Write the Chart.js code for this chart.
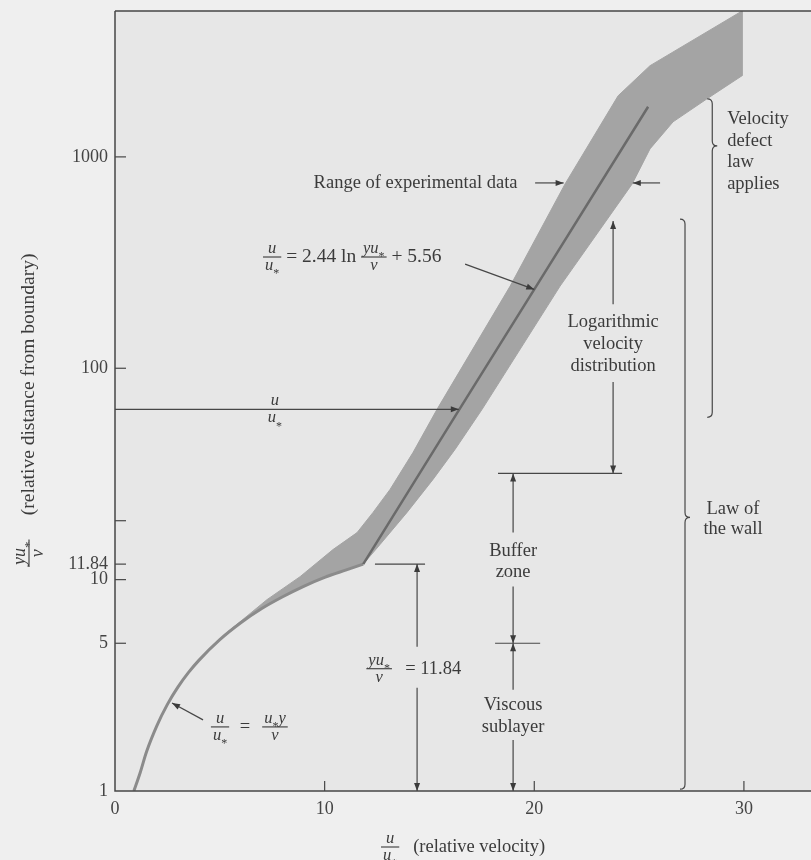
<!DOCTYPE html>
<html lang="en">
<head>
<meta charset="UTF-8" />
<title>Velocity distribution near a smooth wall</title>
<script src="https://cdn.jsdelivr.net/npm/chart.js@4.4.1/dist/chart.umd.min.js"></script>
<style>
    body { margin: 0; background: #f1f1f1; }
    #wrap { width: 811px; height: 860px; }
</style>
</head>
<body>
<div id="wrap"><canvas id="wallChart" width="811" height="860"></canvas></div>
<script>
// x = u/u*  (relative velocity), y = yu*/nu (relative distance, log)
const xTicks = [0, 10, 20, 30];
const yTicks = [1, 5, 10, 11.84, 19, 100, 1000];
const yTickLabels = ['1', '5', '10', '11.84', '', '100', '1000'];

// range of experimental data, outline: upper edge going up, then lower edge coming back
const bandX = [5.39, 7.25, 8.83, 10.4, 11.55, 12.31, 13.12, 14.22, 15.36, 18.85, 21.47, 24.0, 25.52, 29.91,
               29.91, 28.24, 26.62, 25.52, 24.67, 21.23, 17.51, 16.22, 15.17, 13.93, 12.64, 11.84,
               11.0, 10.0, 9.0, 8.0, 7.0, 6.0];
const bandY = [5.67, 8.04, 10.33, 13.88, 16.7, 20.8, 26.7, 40.0, 63.9, 244.7, 745, 1946, 2700, 4900,
               2421, 1883, 1465, 1091, 745, 244.7, 63.9, 41.3, 29.8, 20.8, 14.65, 11.84,
               11.1, 10.25, 9.3, 8.3, 7.3, 6.25];

// viscous sublayer curve  u/u* = u*y/nu
const viscousX = [0.9, 1.2, 1.5, 2.0, 2.5, 3.0, 3.5, 4.0, 5.0, 6.0, 7.0, 8.0, 9.0, 10.0, 11.0, 11.84];
const viscousY = [1.0, 1.22, 1.53, 2.04, 2.57, 3.1, 3.63, 4.15, 5.2, 6.25, 7.3, 8.3, 9.3, 10.25, 11.1, 11.84];

// log law  u/u* = 2.44 ln(yu*/nu) + 5.56
const logLawX = [11.84, 16.3, 20.0, 25.43];
const logLawY = [11.84, 61, 236, 1726];

const SERIF = '"Liberation Serif", "DejaVu Serif", serif';
const INK = '#3b3b3b';
const TXT = 18.5;   // annotation text size
const FR = 16.5;    // fraction text size

function toPoints(xs, ys) {
    return xs.map((x, i) => ({ x: x, y: ys[i] }));
}

// small rich text: '*' after a letter is drawn as a subscript asterisk
function richWidth(ctx, s, size) {
    let w = 0;
    for (const ch of s) {
        ctx.font = ch === '*' ? Math.round(size * 0.7) + 'px ' + SERIF : 'italic ' + size + 'px ' + SERIF;
        w += ctx.measureText(ch).width;
    }
    return w;
}
function drawRich(ctx, s, x, y, size) {
    ctx.textAlign = 'left';
    ctx.textBaseline = 'alphabetic';
    for (const ch of s) {
        if (ch === '*') {
            ctx.font = Math.round(size * 0.7) + 'px ' + SERIF;
            ctx.fillText(ch, x, y + size * 0.45);
        } else {
            ctx.font = 'italic ' + size + 'px ' + SERIF;
            ctx.fillText(ch, x, y);
        }
        x += ctx.measureText(ch).width;
    }
}
function fracWidth(ctx, f, size) {
    return Math.max(richWidth(ctx, f[0], size), richWidth(ctx, f[1], size)) + 4;
}
function drawFrac(ctx, f, cx, cy, size, bar) {
    const wn = richWidth(ctx, f[0], size), wd = richWidth(ctx, f[1], size);
    const w = Math.max(wn, wd) + 4;
    drawRich(ctx, f[0], cx - wn / 2, cy - 4, size);
    drawRich(ctx, f[1], cx - wd / 2, cy + size * 0.78, size);
    if (bar !== false) {
        ctx.beginPath();
        ctx.moveTo(cx - w / 2, cy);
        ctx.lineTo(cx + w / 2, cy);
        ctx.stroke();
    }
    return w;
}
// sequence of plain strings and fractions, vertically centred on cy
function drawSeq(ctx, items, x, cy, size, fsize) {
    for (const it of items) {
        if (typeof it === 'string') {
            ctx.font = size + 'px ' + SERIF;
            ctx.textAlign = 'left';
            ctx.textBaseline = 'middle';
            ctx.fillText(it, x, cy);
            x += ctx.measureText(it).width;
        } else {
            const w = fracWidth(ctx, it, fsize);
            drawFrac(ctx, it, x + w / 2, cy, fsize);
            x += w;
        }
    }
}
function label(ctx, s, p, align) {
    ctx.font = TXT + 'px ' + SERIF;
    ctx.textAlign = align || 'center';
    ctx.textBaseline = 'middle';
    ctx.fillText(s, p.x, p.y);
}
function seg(ctx, p, q) {
    ctx.beginPath();
    ctx.moveTo(p.x, p.y);
    ctx.lineTo(q.x, q.y);
    ctx.stroke();
}
function arrow(ctx, p, q) {
    seg(ctx, p, q);
    const a = Math.atan2(q.y - p.y, q.x - p.x), len = 8, hw = 3;
    ctx.beginPath();
    ctx.moveTo(q.x, q.y);
    ctx.lineTo(q.x - len * Math.cos(a) + hw * Math.sin(a), q.y - len * Math.sin(a) - hw * Math.cos(a));
    ctx.lineTo(q.x - len * Math.cos(a) - hw * Math.sin(a), q.y - len * Math.sin(a) + hw * Math.cos(a));
    ctx.closePath();
    ctx.fill();
}
function brace(ctx, x, top, tip, bottom) {
    const r = 5;
    ctx.beginPath();
    ctx.moveTo(x - r, top);
    ctx.quadraticCurveTo(x, top, x, top + r);
    ctx.lineTo(x, tip - r);
    ctx.quadraticCurveTo(x, tip, x + r, tip);
    ctx.quadraticCurveTo(x, tip, x, tip + r);
    ctx.lineTo(x, bottom - r);
    ctx.quadraticCurveTo(x, bottom, x - r, bottom);
    ctx.stroke();
}

const paperPlugin = {
    id: 'paper',
    beforeDraw(chart) {
        const { ctx, chartArea: a } = chart;
        ctx.save();
        ctx.fillStyle = '#efefef';
        ctx.fillRect(0, 0, chart.width, chart.height);
        ctx.fillStyle = '#e7e7e7';
        ctx.fillRect(a.left, a.top, a.right - a.left, a.bottom - a.top);
        ctx.restore();
    }
};

const notesPlugin = {
    id: 'notes',
    afterDraw(chart) {
        const { ctx, chartArea: a } = chart;
        const xs = chart.scales.x, ys = chart.scales.y;
        const P = (x, y) => ({ x: xs.getPixelForValue(x), y: ys.getPixelForValue(y) });
        ctx.save();

        // frame and inward ticks
        ctx.strokeStyle = '#474747';
        ctx.lineWidth = 1.5;
        ctx.beginPath();
        ctx.moveTo(a.left, a.top);
        ctx.lineTo(a.right, a.top);
        ctx.moveTo(a.left, a.top);
        ctx.lineTo(a.left, a.bottom);
        ctx.lineTo(a.right, a.bottom);
        ctx.stroke();
        ctx.lineWidth = 1.2;
        xs.ticks.forEach(t => {
            if (t.value === 0) return;
            const x = xs.getPixelForValue(t.value);
            seg(ctx, { x: x, y: a.bottom }, { x: x, y: a.bottom - 10 });
        });
        ys.ticks.forEach(t => {
            if (t.value === 1) return;
            const y = ys.getPixelForValue(t.value);
            seg(ctx, { x: a.left, y: y }, { x: a.left + 11, y: y });
        });

        ctx.strokeStyle = '#474747';
        ctx.fillStyle = INK;
        ctx.lineWidth = 1.2;

        // range of experimental data
        label(ctx, 'Range of experimental data', P(19.2, 753), 'right');
        arrow(ctx, P(20.04, 753), P(21.4, 753));
        arrow(ctx, P(26.0, 753), P(24.7, 753));

        // log law formula
        const f0 = P(7.06, 336);
        drawSeq(ctx, [['u', 'u*'], ' = 2.44 ln ', ['yu*', 'ν'], ' + 5.56'], f0.x, f0.y, 19.5, FR);
        arrow(ctx, P(16.7, 311), P(20.0, 236));

        // u/u* arrow from the axis
        arrow(ctx, P(0, 63.9), P(16.4, 63.9));
        const f1 = P(7.63, 63.9);
        drawFrac(ctx, ['u', 'u*'], f1.x, f1.y, FR, false);

        // logarithmic velocity distribution
        label(ctx, 'Logarithmic', P(23.76, 165));
        label(ctx, 'velocity', P(23.76, 130));
        label(ctx, 'distribution', P(23.76, 102));
        arrow(ctx, P(23.76, 201), P(23.76, 497));
        arrow(ctx, P(23.76, 86), P(23.76, 31.8));
        seg(ctx, P(18.27, 31.8), P(24.19, 31.8));

        // buffer zone and viscous sublayer
        label(ctx, 'Buffer', P(18.99, 13.7));
        label(ctx, 'zone', P(18.99, 10.8));
        arrow(ctx, P(18.99, 16.7), P(18.99, 31.8));
        arrow(ctx, P(18.99, 9.27), P(18.99, 5));
        seg(ctx, P(18.13, 5), P(20.28, 5));
        arrow(ctx, P(18.99, 3.01), P(18.99, 5));
        label(ctx, 'Viscous', P(18.99, 2.56));
        label(ctx, 'sublayer', P(18.99, 2.01));
        arrow(ctx, P(18.99, 1.745), P(18.99, 1));

        // yu*/nu = 11.84
        seg(ctx, P(12.4, 11.84), P(14.79, 11.84));
        arrow(ctx, P(14.41, 4.81), P(14.41, 11.84));
        arrow(ctx, P(14.41, 3.08), P(14.41, 1));
        const f2 = P(12.6, 3.79);
        drawFrac(ctx, ['yu*', 'ν'], f2.x, f2.y, FR);
        label(ctx, '= 11.84', P(13.84, 3.79), 'left');

        // u/u* = u*y/nu
        const f3 = P(5.01, 2.01), f4 = P(7.63, 2.01);
        drawFrac(ctx, ['u', 'u*'], f3.x, f3.y, FR);
        label(ctx, '=', P(6.2, 2.01));
        drawFrac(ctx, ['u*y', 'ν'], f4.x, f4.y, FR);
        arrow(ctx, P(4.2, 2.17), P(2.72, 2.61));

        // braces
        const b1 = P(28.49, 1883);
        brace(ctx, b1.x, b1.y, P(0, 1127).y, P(0, 58.6).y);
        label(ctx, 'Velocity', P(29.2, 1514), 'left');
        label(ctx, 'defect', P(29.2, 1191), 'left');
        label(ctx, 'law', P(29.2, 947), 'left');
        label(ctx, 'applies', P(29.2, 745), 'left');
        const b2 = P(27.19, 508);
        brace(ctx, b2.x, b2.y, P(0, 19.7).y, P(0, 1.02).y);
        label(ctx, 'Law of', P(29.48, 21.5));
        label(ctx, 'the wall', P(29.48, 17.3));

        // axis titles
        ctx.fillStyle = INK;
        drawSeq(ctx, [['u', 'u*'], '   (relative velocity)'], 381, 847, 18.5, FR);
        ctx.translate(29, 567);
        ctx.rotate(-Math.PI / 2);
        drawSeq(ctx, [['yu*', 'ν'], '     (relative distance from boundary)'], 0, 0, 19.5, 18);
        ctx.restore();
    }
};

const tickFont = { family: SERIF, size: 18 };

new Chart(document.getElementById('wallChart').getContext('2d'), {
    type: 'scatter',
    data: {
        datasets: [
            { label: 'Log law', data: toPoints(logLawX, logLawY), showLine: true, borderColor: '#6a6a6a',
              borderWidth: 2.5, pointRadius: 0, order: 0 },
            { label: 'Viscous sublayer', data: toPoints(viscousX, viscousY), showLine: true, borderColor: '#8b8b8b',
              borderWidth: 3, pointRadius: 0, cubicInterpolationMode: 'monotone', order: 1 },
            { label: 'Range of experimental data', data: toPoints(bandX, bandY), showLine: true,
              borderColor: '#a4a4a4', borderWidth: 1, backgroundColor: '#a4a4a4', fill: 'shape',
              pointRadius: 0, order: 2 }
        ]
    },
    options: {
        responsive: false,
        animation: false,
        layout: { padding: { top: 11, right: 0, bottom: 0, left: 0 } },
        plugins: { legend: { display: false }, tooltip: { enabled: false } },
        scales: {
            x: {
                type: 'linear', min: 0, max: 33.2,
                grid: { display: false, drawTicks: false },
                border: { display: false },
                afterBuildTicks: s => { s.ticks = xTicks.map(v => ({ value: v })); },
                afterFit: s => { s.height = 69; s.paddingLeft = 0; s.paddingRight = 0; },
                ticks: { autoSkip: false, maxRotation: 0, padding: 7, color: '#444', font: tickFont,
                         callback: v => String(v) }
            },
            y: {
                type: 'logarithmic', min: 1, max: 4900,
                grid: { display: false, drawTicks: false },
                border: { display: false },
                afterBuildTicks: s => { s.ticks = yTicks.map(v => ({ value: v })); },
                afterFit: s => { s.width = 115; s.paddingTop = 0; s.paddingBottom = 0; },
                ticks: { autoSkip: false, padding: 7, color: '#444', font: tickFont,
                         callback: (v, i) => yTickLabels[i] }
            }
        }
    },
    plugins: [paperPlugin, notesPlugin]
});
</script>
</body>
</html>
